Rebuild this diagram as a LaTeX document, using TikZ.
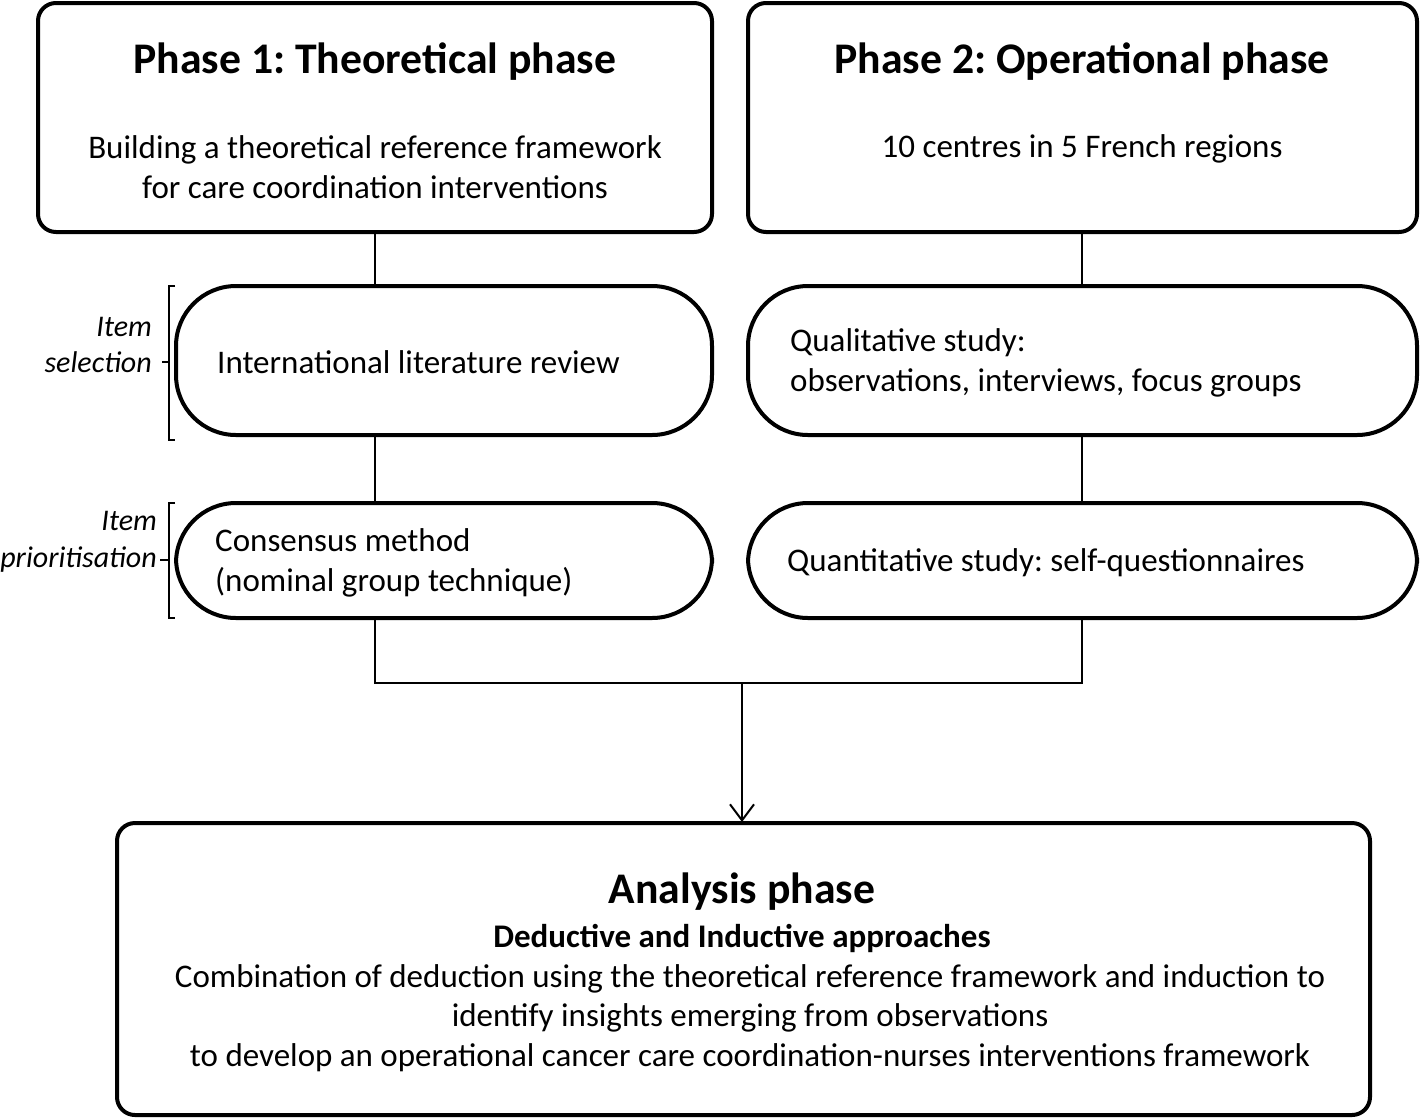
\documentclass[tikz,border=0pt]{standalone}
\usepackage{fontspec}
\setmainfont{Carlito}
\frenchspacing
\usetikzlibrary{arrows.meta}
\begin{document}
\begin{tikzpicture}[x=1pt,y=-1pt,
  box/.style={draw,line width=4pt,rounded corners=18pt},
  pill/.style={draw,line width=4pt,rounded corners=60pt},
  conn/.style={line width=2pt},
  txt/.style={inner sep=0pt,font=\fontsize{33}{39.5}\selectfont,align=center},
  ttl/.style={inner sep=0pt,font=\fontsize{43.7}{48}\selectfont\bfseries},
  side/.style={inner sep=0pt,font=\fontsize{30}{36.5}\selectfont\itshape,align=right,anchor=east}]
\useasboundingbox (0,0) rectangle (1420,1119);
% boxes
\draw[box] (38,3) rectangle (712,232);
\draw[box] (748,3) rectangle (1417,232);
\draw[pill] (176,286) rectangle (712,435);
\draw[pill] (748,286) rectangle (1417,435);
\draw[pill] (176,503) rectangle (712,618);
\draw[pill] (748,503) rectangle (1417,618);
\draw[box] (117,823) rectangle (1370,1115);
% coordinates
\coordinate (p1b) at (375,232); \coordinate (l1t) at (375,286);
\coordinate (l1b) at (375,435); \coordinate (c1t) at (375,503);
\coordinate (c1b) at (375,618); \coordinate (jl) at (375,683);
\coordinate (p2b) at (1082,232); \coordinate (q1t) at (1082,286);
\coordinate (q1b) at (1082,435); \coordinate (q2t) at (1082,503);
\coordinate (q2b) at (1082,618); \coordinate (jr) at (1082,683);
\coordinate (jm) at (742,683); \coordinate (at) at (742,822);
\draw[conn] (p1b) -- (l1t);
\draw[conn] (l1b) -- (c1t);
\draw[conn] (p2b) -- (q1t);
\draw[conn] (q1b) -- (q2t);
\draw[conn] (c1b) -- (jl) -- (jr) -- (q2b);
\draw[conn,-{Straight Barb[length=16pt,width=24pt]}] (jm) -- (at);
% brackets
\draw[line width=1.5pt] (175,286) -- (169,286) -- (169,440) -- (175,440);
\draw[line width=1.5pt] (162,362) -- (169,362);
\draw[line width=1.5pt] (175,503) -- (169,503) -- (169,618) -- (175,618);
\draw[line width=1.5pt] (160,560) -- (169,560);
% texts
\node[ttl] (t1) at (375,62) {Phase 1: Theoretical phase};
\node[txt] (s1) at (375,167) {Building a theoretical reference framework\\for care coordination interventions};
\node[ttl] (t2) at (1082,62) {Phase 2: Operational phase};
\node[txt] (s2) at (1082,149) {10 centres in 5 French regions};
\node[txt,anchor=west] (lit) at (217,362) {International literature review};
\node[txt,anchor=west,align=left] (qual) at (790,363) {Qualitative study:\\observations, interviews, focus groups};
\node[txt,anchor=west,align=left] (cons) at (215,563) {Consensus method\\(nominal group technique)};
\node[txt,anchor=west] (quan) at (787,563) {Quantitative study: self-questionnaires};
\node[side] (sel) at (152,345) {Item\\selection};
\node[side] (pri) at (157,542) {Item\\prioritisation};
\node[ttl] (an) at (742,892) {Analysis phase};
\node[txt,font=\fontsize{33}{39}\selectfont\bfseries] (ded) at (742,938) {Deductive and Inductive approaches};
\node[txt] (comb) at (750,1018) {Combination of deduction using the theoretical reference framework and induction to\\identify insights emerging from observations\\to develop an operational cancer care coordination-nurses interventions framework};
\end{tikzpicture}
\end{document}
